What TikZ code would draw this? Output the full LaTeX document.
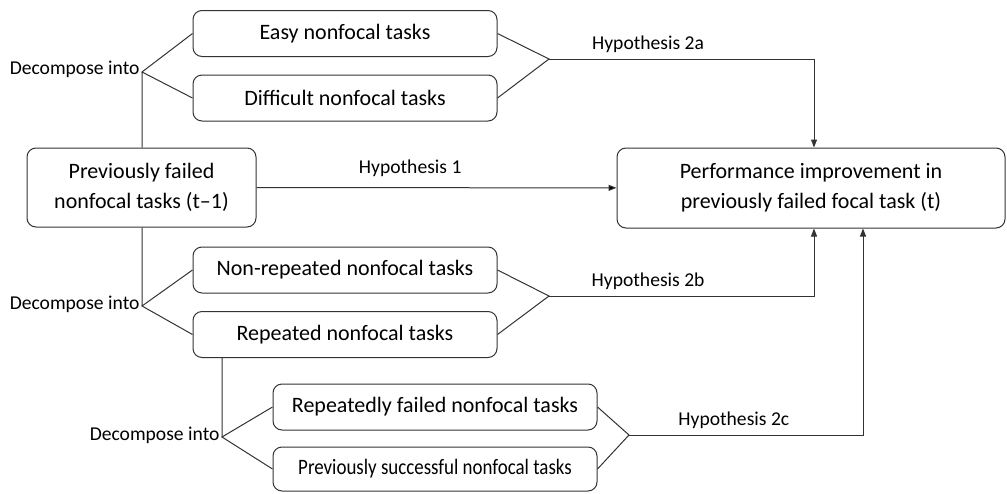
\documentclass[tikz,border=0pt]{standalone}
\usepackage{fontspec}
\setmainfont{Carlito}
\usepackage{graphicx}
\usetikzlibrary{positioning}
\usetikzlibrary{arrows.meta}

\begin{document}
\begin{tikzpicture}[x=1pt,y=-1pt,node distance=64.5pt,on grid,line width=1pt,
    >={Triangle[length=8pt,width=6pt]},
    task/.style={draw=black!80,rounded corners=9pt,minimum width=304pt,minimum height=46pt,
      inner sep=0pt,align=center,font=\fontsize{22}{30}\selectfont},
    lab/.style={inner sep=2pt,font=\fontsize{19.6}{23}\selectfont}]
   \useasboundingbox (0,0) rectangle (1007,493);
   \node[task] (n_easy) at (345,33.5) {Easy nonfocal tasks};
   \node[task] (n_diff) [below=of n_easy] {Difficult nonfocal tasks};
   \node[task,minimum width=229pt,minimum height=79pt] (n_prev) at (141.5,187.5) {Previously failed\\nonfocal tasks (t\textendash1)};
   \node[task,minimum width=388pt,minimum height=80pt] (n_perf) at (811,188) {Performance improvement in\\previously failed focal task (t)};
   \node[task] (n_nonrep) at (345,270) {Non-repeated nonfocal tasks};
   \node[task] (n_rep) [below=of n_nonrep] {Repeated nonfocal tasks};
   \node[task,minimum width=324pt] (n_rfail) at (435,407) {Repeatedly failed nonfocal tasks};
   \node[task,minimum width=324pt,minimum height=44pt] (n_psucc) [below=62pt of n_rfail] {\scalebox{0.86}[1]{Previously successful nonfocal tasks}};
   % split points and merge points
   \coordinate (d_1) at (142,72);
   \coordinate (d_2) at (142,306);
   \coordinate (d_3) at (222,437);
   \coordinate (v_a) at (549,59);
   \coordinate (v_b) at (549,296);
   \coordinate (v_c) at (629,435);
   \node[lab,anchor=east] (l_d1) at (142,69) {Decompose into};
   \node[lab,anchor=east] (l_d2) at (142,304) {Decompose into};
   \node[lab,anchor=east] (l_d3) at (222,435) {Decompose into};
    \draw[black!80] 
    (d_1 |- n_prev.north) -- (d_1)
    (n_easy.west) -- (d_1) -- (n_diff.west)
    (d_2 |- n_prev.south) -- (d_2)
    (n_nonrep.west) -- (d_2) -- (n_rep.west)
    (d_3 |- n_rep.south) -- (d_3)
    (n_rfail.west) -- (d_3) -- (n_psucc.west)
    (n_easy.east) -- (v_a) -- (n_diff.east)
    (n_nonrep.east) -- (v_b) -- (n_rep.east)
    (n_rfail.east) -- (v_c) -- (n_psucc.east);
    \path[->,draw=black!80] 
    (n_prev) edge node[lab,above,yshift=9pt,pos=0.427] {Hypothesis 1} (n_perf);
    \draw[->,black!80] (v_a) -| ([xshift=3pt]n_perf.north) node[lab,above,yshift=4pt,pos=0.187,black] {Hypothesis 2a};
    \draw[->,black!80] (v_b) -| ([xshift=3pt]n_perf.south) node[lab,above,yshift=4pt,pos=0.187,black] {Hypothesis 2b};
    \draw[->,black!80] (v_c) -| ([xshift=52pt]n_perf.south) node[lab,above,yshift=4pt,pos=0.224,black] {Hypothesis 2c};
\end{tikzpicture}
\end{document}
